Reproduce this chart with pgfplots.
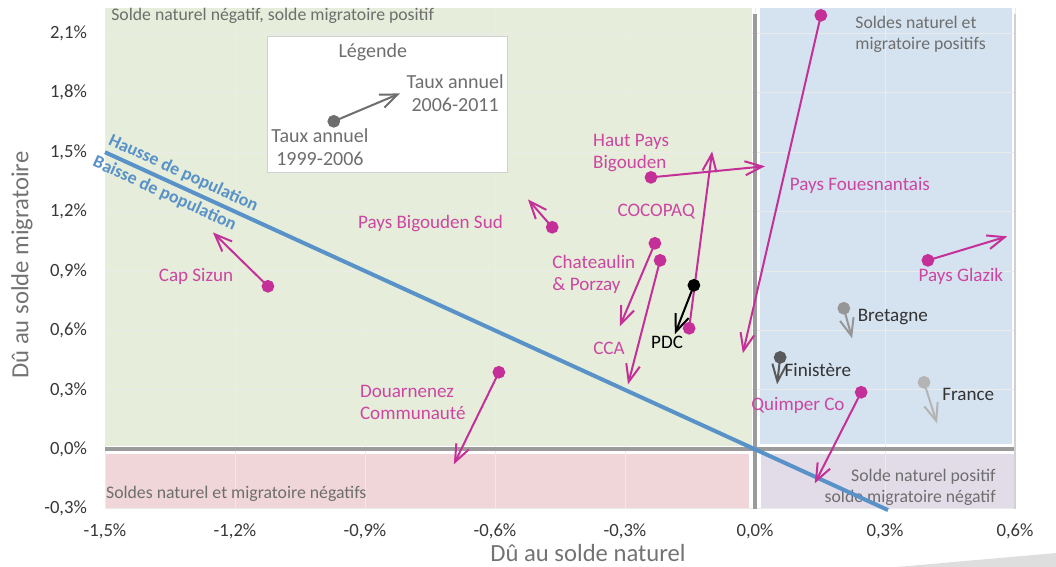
\documentclass[border=0pt]{standalone}
\usepackage{pgfplots}
\pgfplotsset{compat=1.18}
\usepackage{fontspec}
\setmainfont{Carlito}
\usetikzlibrary{arrows.meta}
\definecolor{pk}{RGB}{196,48,152}
\definecolor{pktxt}{RGB}{204,70,162}
\definecolor{bl}{RGB}{88,146,200}
\definecolor{gfill}{RGB}{230,237,218}
\definecolor{bfill}{RGB}{213,226,239}
\definecolor{rfill}{RGB}{240,214,216}
\definecolor{pfill}{RGB}{226,219,232}
\definecolor{axg}{RGB}{155,155,155}
\definecolor{txtg}{RGB}{110,110,110}
\definecolor{legg}{RGB}{110,110,110}
\definecolor{g1}{RGB}{150,150,150}
\definecolor{g2}{RGB}{90,90,90}
\definecolor{g3}{RGB}{180,180,180}
\tikzset{
  arr/.style={line width=1.5pt, -{Straight Barb[length=13pt,width=10.5pt]}},
  dl/.style={font=\fontsize{14.3}{16.5}\selectfont, text=pktxt, inner sep=0pt},
  rl/.style={font=\fontsize{13.3}{15.8}\selectfont, text=txtg, inner sep=0pt},
  lg/.style={font=\fontsize{15}{17}\selectfont, text=legg, inner sep=0pt},
}
\pgfplotsset{
  dot/.style={mark=*, mark size=4pt, mark indices={1}, mark options={solid, line width=0.4pt}},
}
\begin{document}
\begin{tikzpicture}
\path (0pt,0pt) rectangle (792pt,425.25pt);
\fill[black!13] (672.75pt,0pt) -- (792pt,10.5pt) -- (792pt,0pt) -- cycle;
\begin{axis}[
  at={(78.75pt,43.725pt)}, anchor=south west,
  scale only axis, width=682.5pt, height=375.5pt,
  xmin=-1.5, xmax=0.6, ymin=-0.3, ymax=2.228,
  set layers, clip=false,
  axis line style={draw=none}, tick style={draw=none},
  xtick={-1.5,-1.2,-0.9,-0.6,-0.3,0,0.3,0.6},
  xticklabels={{-1,5\%},{-1,2\%},{-0,9\%},{-0,6\%},{-0,3\%},{0,0\%},{0,3\%},{0,6\%}},
  ytick={-0.3,0,0.3,0.6,0.9,1.2,1.5,1.8,2.1},
  yticklabels={{-0,3\%},{0,0\%},{0,3\%},{0,6\%},{0,9\%},{1,2\%},{1,5\%},{1,8\%},{2,1\%}},
  grid=major, major grid style={black!8, line width=0.75pt},
  ticklabel style={font=\fontsize{14}{16}\selectfont, text=black!78},
  xticklabel style={yshift=-8pt},
  yticklabel style={xshift=-10pt},
  /pgf/number format/assume math mode=true,
]
% background quadrants
\addplot[draw=none, fill=gfill, on layer=axis background, forget plot] coordinates {(-1.5,0.016) (-0.008,0.016) (-0.008,2.228) (-1.5,2.228)};
\addplot[draw=none, fill=bfill, on layer=axis background, forget plot] coordinates {(0.012,0.025) (0.594,0.025) (0.594,2.228) (0.012,2.228)};
\addplot[draw=none, fill=rfill, on layer=axis background, forget plot] coordinates {(-1.5,-0.025) (-0.014,-0.025) (-0.014,-0.3) (-1.5,-0.3)};
\addplot[draw=none, fill=pfill, on layer=axis background, forget plot] coordinates {(0.014,-0.025) (0.6,-0.025) (0.6,-0.3) (0.014,-0.3)};
% zero axes
\addplot[axg, line width=3pt, forget plot] coordinates {(0,-0.3) (0,2.20)};
\addplot[axg, line width=3pt, forget plot] coordinates {(-1.5,0) (0.6,0)};
\addplot[black!18, line width=1.5pt, forget plot] coordinates {(0.6,-0.3) (0.6,2.20)};

% region labels
\node[rl, anchor=west] at (axis cs:-1.486,2.186) {Solde naturel négatif, solde migratoire positif};
\node[rl, anchor=west, align=left] at (axis cs:0.231,2.097) {Soldes naturel et\\migratoire positifs};
\node[rl, anchor=west] at (axis cs:-1.498,-0.227) {Soldes naturel et migratoire négatifs};
\node[rl, anchor=east, align=right] at (axis cs:0.556,-0.192) {Solde naturel positif\\solde migratoire négatif};

% legend box
\draw[black!18, fill=white, line width=0.75pt] (axis cs:-1.124,1.398) rectangle (axis cs:-0.572,2.085);
\node[lg] at (axis cs:-0.882,2.004) {Légende};
\node[lg, align=center] at (axis cs:-0.692,1.797) {Taux annuel\\2006-2011};
\node[lg, align=center] at (axis cs:-1.004,1.524) {Taux annuel\\1999-2006};
\addplot[legg, arr, dot, mark options={fill=legg, draw=legg}] coordinates {(-0.972,1.656) (-0.819,1.797)};

% population line
\addplot[bl, line width=3pt] coordinates {(-1.5,1.5) (0.307,-0.307)}
  node[pos=0.093, sloped, above, inner sep=2.5pt, font=\fontsize{13.5}{15}\selectfont\bfseries, text=bl] {Hausse de population}
  node[pos=0.083, sloped, below, inner sep=2.5pt, font=\fontsize{13.5}{15}\selectfont\bfseries, text=bl] {Baisse de population};

% pink series
\addplot[pk, arr, dot, mark options={fill=pk, draw=pk}] coordinates {(-1.124,0.823) (-1.251,1.095)};
\addplot[pk, arr, dot, mark options={fill=pk, draw=pk}] coordinates {(-0.468,1.121) (-0.524,1.262)};
\addplot[pk, arr, dot, mark options={fill=pk, draw=pk}] coordinates {(-0.240,1.373) (0.023,1.429)};
\addplot[pk, arr, dot, mark options={fill=pk, draw=pk}] coordinates {(0.152,2.191) (-0.028,0.485)};
\addplot[pk, arr, dot, mark options={fill=pk, draw=pk}] coordinates {(-0.152,0.611) (-0.099,1.504)};
\addplot[pk, arr, dot, mark options={fill=pk, draw=pk}] coordinates {(-0.231,1.040) (-0.312,0.621)};
\addplot[pk, arr, dot, mark options={fill=pk, draw=pk}] coordinates {(-0.219,0.954) (-0.293,0.328)};
\addplot[pk, arr, dot, mark options={fill=pk, draw=pk}] coordinates {(-0.591,0.389) (-0.695,-0.076)};
\addplot[pk, arr, dot, mark options={fill=pk, draw=pk}] coordinates {(0.399,0.954) (0.582,1.075)};
\addplot[pk, arr, dot, mark options={fill=pk, draw=pk}] coordinates {(0.245,0.288) (0.138,-0.172)};
% black PDC
\addplot[black, arr, dot, mark options={fill=black, draw=black}] coordinates {(-0.141,0.828) (-0.185,0.581)};
% gray series
\addplot[g1, arr, dot, mark options={fill=g1, draw=g1}] coordinates {(0.205,0.712) (0.224,0.560)};
\addplot[g2, arr, dot, mark options={fill=g2, draw=g2}] coordinates {(0.058,0.464) (0.051,0.328)};
\addplot[g3, arr, dot, mark options={fill=g3, draw=g3}] coordinates {(0.390,0.338) (0.420,0.131)};

% data labels
\node[dl] at (axis cs:-1.290,0.873) {Cap Sizun};
\node[dl] at (axis cs:-0.749,1.141) {Pays Bigouden Sud};
\node[dl, anchor=west, align=left] at (axis cs:-0.374,1.494) {Haut Pays\\Bigouden};
\node[dl] at (axis cs:-0.228,1.201) {COCOPAQ};
\node[dl, anchor=west, align=left] at (axis cs:-0.468,0.883) {Chateaulin\\\& Porzay};
\node[dl] at (axis cs:-0.337,0.510) {CCA};
\node[dl, text=black] at (axis cs:-0.203,0.540) {PDC};
\node[dl] at (axis cs:0.242,1.333) {Pays Fouesnantais};
\node[dl] at (axis cs:0.475,0.873) {Pays Glazik};
\node[dl, text=black!80] at (axis cs:0.318,0.666) {Bretagne};
\node[dl, text=black!80] at (axis cs:0.145,0.399) {Finistère};
\node[dl] at (axis cs:0.099,0.222) {Quimper Co};
\node[dl, text=black!80] at (axis cs:0.492,0.278) {France};
\node[dl, anchor=west, align=left] at (axis cs:-0.912,0.237) {Douarnenez\\Communauté};
\end{axis}
\node[font=\fontsize{18.5}{20}\selectfont, text=black!55, inner sep=0pt] at (441pt,10.5pt) {Dû au solde naturel};
\node[font=\fontsize{18.5}{20}\selectfont, text=black!55, inner sep=0pt, rotate=90] at (16.5pt,226.5pt) {Dû au solde migratoire};
\end{tikzpicture}
\end{document}
